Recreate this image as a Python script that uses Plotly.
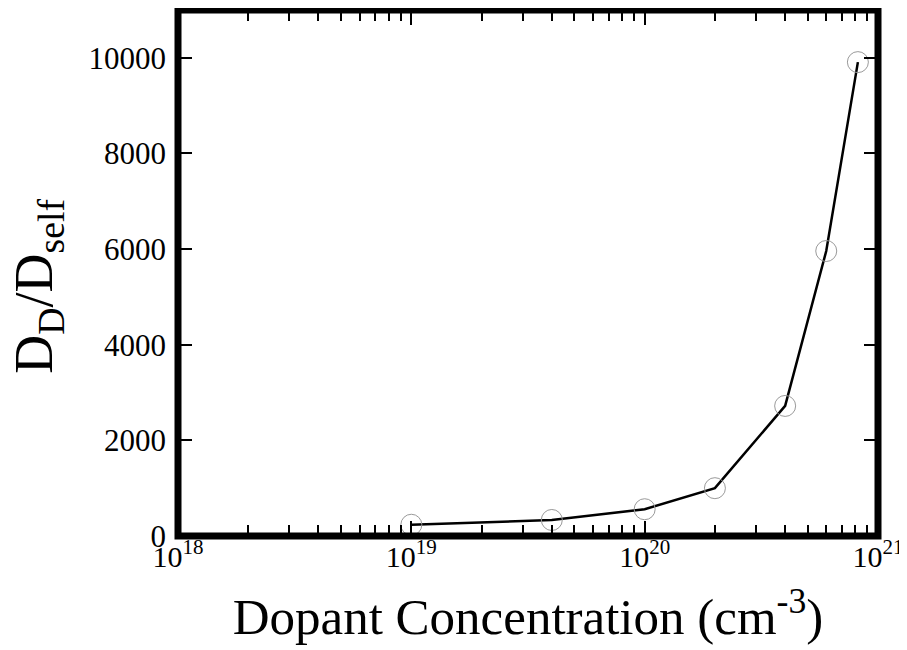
import plotly.graph_objects as go

# Data
concentration = [1e19, 4e19, 1e20, 2e20, 4e20, 6e20, 8.2e20]
ratio = [235, 335, 560, 1000, 2720, 5960, 9910]

x_major = [1e18, 1e19, 1e20, 1e21]
x_major_text = ["10<sup>18</sup>", "10<sup>19</sup>", "10<sup>20</sup>", "10<sup>21</sup>"]
y_ticks = [0, 2000, 4000, 6000, 8000, 10000]
y_tick_text = ["0", "2000", "4000", "6000", "8000", "10000"]

x_minor = [float(m) * 10.0 ** e for e in (18, 19, 20) for m in range(2, 10)]

FONT = "Liberation Serif"

fig = go.Figure()
fig.add_trace(go.Scatter(
    x=concentration, y=ratio, mode="lines",
    line=dict(color="black", width=2.5),
    showlegend=False, hoverinfo="skip",
))
fig.add_trace(go.Scatter(
    x=concentration, y=ratio, mode="markers",
    marker=dict(symbol="circle-open", size=21, color="#9a9a9a", line=dict(width=1, color="#9a9a9a")),
    showlegend=False,
))

fig.add_shape(type="rect", xref="paper", yref="paper", x0=0, x1=1, y0=0, y1=1,
              line=dict(color="black", width=7), layer="above")

# y-axis title as a rotated annotation so it can sit exactly where the reference has it
fig.add_annotation(
    text="D<sub>D</sub>/D<sub>self</sub>", textangle=-90,
    xref="paper", yref="paper", x=-0.2, y=0.474,
    xanchor="center", yanchor="middle", showarrow=False,
    font=dict(family=FONT, size=54, color="black"),
)

# page body adds an 8px margin; figure is sized so the plot lands where the reference has it
fig.update_layout(
    width=899, height=642,
    margin=dict(l=170, r=29, t=2, b=114),
    paper_bgcolor="white", plot_bgcolor="white",
    font=dict(family=FONT, color="black", size=30),
    xaxis=dict(
        type="log", range=[18, 21], automargin=False,
        tickmode="array", tickvals=x_major, ticktext=x_major_text,
        ticks="inside", ticklen=15, tickwidth=1.5, tickcolor="black",
        minor=dict(tickmode="array", tickvals=x_minor, ticks="inside", ticklen=11,
                   tickwidth=1.5, tickcolor="black", showgrid=False),
        mirror="allticks", showline=False, showgrid=False, zeroline=False,
        tickfont=dict(family=FONT, size=30),
        title=dict(text="Dopant Concentration (cm<sup>-3</sup>)", font=dict(family=FONT, size=51), standoff=26),
    ),
    yaxis=dict(
        range=[0, 11000], automargin=False,
        tickmode="array", tickvals=y_ticks, ticktext=y_tick_text,
        ticks="inside", ticklen=14, tickwidth=1.5, tickcolor="black",
        mirror="allticks", showline=False, showgrid=False, zeroline=False,
        tickfont=dict(family=FONT, size=31), ticklabelstandoff=11,
    ),
)

fig.write_html("out.html")
